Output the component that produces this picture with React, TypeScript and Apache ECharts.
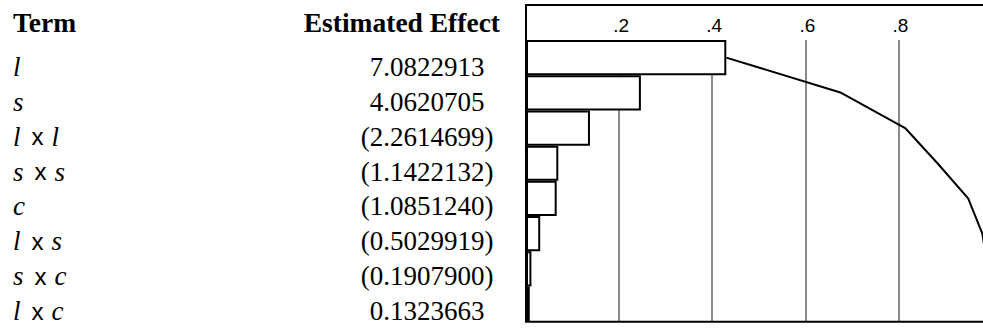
import React, { useEffect, useRef } from "react";
import * as echarts from "echarts";

// ---- data ----
const terms: string[] = ["l", "s", "l x l", "s x s", "c", "l x s", "s x c", "l x c"];
const estimates: number[] = [
  7.0822913, 4.0620705, -2.2614699, -1.1422132, -1.085124, -0.5029919, -0.19079, 0.1323663,
];
const headerTerm = "Term";
const headerEffect = "Estimated Effect";

const total = estimates.reduce((s, v) => s + Math.abs(v), 0);
const shares = estimates.map((v) => Math.abs(v) / total);
const cumulative: number[] = [];
shares.forEach((v, i) => cumulative.push((i ? cumulative[i - 1] : 0) + v));
const effectLabels = estimates.map((v) =>
  v < 0 ? `(${(-v).toFixed(7)})` : v.toFixed(7)
);

const SERIF = "Liberation Serif";
const SANS = "Liberation Sans";

export default function App() {
  const ref = useRef<HTMLDivElement>(null);
  useEffect(() => {
    if (!ref.current) return;
    const chart = echarts.init(ref.current, undefined, { renderer: "svg" });
    const plotLeft = 526;
    const plotTop = 40;
    const plotHeight = 281.7;
    chart.setOption({
      animation: false,
      grid: [
        { left: plotLeft, top: plotTop, width: 465.5, height: plotHeight },
        { left: plotLeft, top: 49.6, width: 10, height: 278.9 },
      ],
      xAxis: [
        {
          type: "value",
          gridIndex: 0,
          position: "top",
          min: 0,
          max: 1,
          interval: 0.2,
          axisLine: { show: false },
          axisTick: { show: false },
          axisLabel: {
            margin: 5,
            fontFamily: SANS,
            fontSize: 19,
            color: "#000",
            padding: [0, 0, 0, 4],
            formatter: (v: number) =>
              v <= 0 || v >= 1 ? "" : String(Math.round(v * 10) / 10).replace(/^0/, ""),
          },
          splitLine: { show: true, lineStyle: { color: "#8a8a8a", width: 2 } },
        },
        { type: "value", gridIndex: 1, show: false },
      ],
      yAxis: [
        {
          type: "category",
          gridIndex: 0,
          data: terms,
          inverse: true,
          axisLine: { show: false },
          axisTick: { show: false },
          axisLabel: { show: false },
          splitLine: { show: false },
        },
        {
          type: "category",
          gridIndex: 1,
          data: terms,
          inverse: true,
          position: "left",
          axisLine: { show: false },
          axisTick: { show: false },
          splitLine: { show: false },
          axisLabel: {
            interval: 0,
            align: "left",
            margin: 513,
            fontFamily: SERIF,
            fontStyle: "italic",
            fontSize: 27,
            color: "#000",
            formatter: (v: string) =>
              v
                .split(" x ")
                .map((p) => `{i|${p}}`)
                .join("{x|x}"),
            rich: {
              i: { fontFamily: SERIF, fontStyle: "italic", fontSize: 27, color: "#000" },
              x: {
                fontFamily: SANS,
                fontStyle: "normal",
                fontSize: 24,
                color: "#000",
                padding: [0, 8, 0, 11],
              },
            },
          },
        },
        {
          type: "category",
          gridIndex: 1,
          data: effectLabels,
          inverse: true,
          position: "left",
          offset: 0,
          axisLine: { show: false },
          axisTick: { show: false },
          splitLine: { show: false },
          axisLabel: {
            interval: 0,
            align: "center",
            margin: 99,
            fontFamily: SERIF,
            fontSize: 27,
            color: "#000",
          },
        },
      ],
      graphic: [
        {
          type: "text",
          x: 13,
          y: 8,
          style: {
            text: headerTerm,
            fontFamily: SERIF,
            fontWeight: "bold",
            fontSize: 27.5,
            fill: "#000",
            textAlign: "left",
            textVerticalAlign: "top",
          },
        },
        {
          type: "text",
          x: 500,
          y: 8,
          style: {
            text: headerEffect,
            fontFamily: SERIF,
            fontWeight: "bold",
            fontSize: 27.5,
            fill: "#000",
            textAlign: "right",
            textVerticalAlign: "top",
          },
        },
        {
          type: "rect",
          z: 100,
          shape: { x: plotLeft, y: 5, width: 480, height: plotTop + plotHeight - 5 },
          style: { fill: "none", stroke: "#000", lineWidth: 2 },
        },
      ],
      series: [
        {
          type: "bar",
          xAxisIndex: 0,
          yAxisIndex: 0,
          data: shares,
          barCategoryGap: "0%",
          itemStyle: { color: "#fff", borderColor: "#000", borderWidth: 2 },
        },
        {
          type: "line",
          xAxisIndex: 0,
          yAxisIndex: 0,
          data: cumulative,
          showSymbol: false,
          symbol: "none",
          lineStyle: { color: "#000", width: 2 },
          z: 5,
        },
      ],
    });
    return () => chart.dispose();
  }, []);
  return (
    <div
      style={{
        position: "fixed",
        left: 0,
        top: 0,
        width: 983,
        height: 331,
        overflow: "hidden",
        background: "#fff",
      }}
    >
      <div ref={ref} style={{ width: 1010, height: 331 }} />
    </div>
  );
}
